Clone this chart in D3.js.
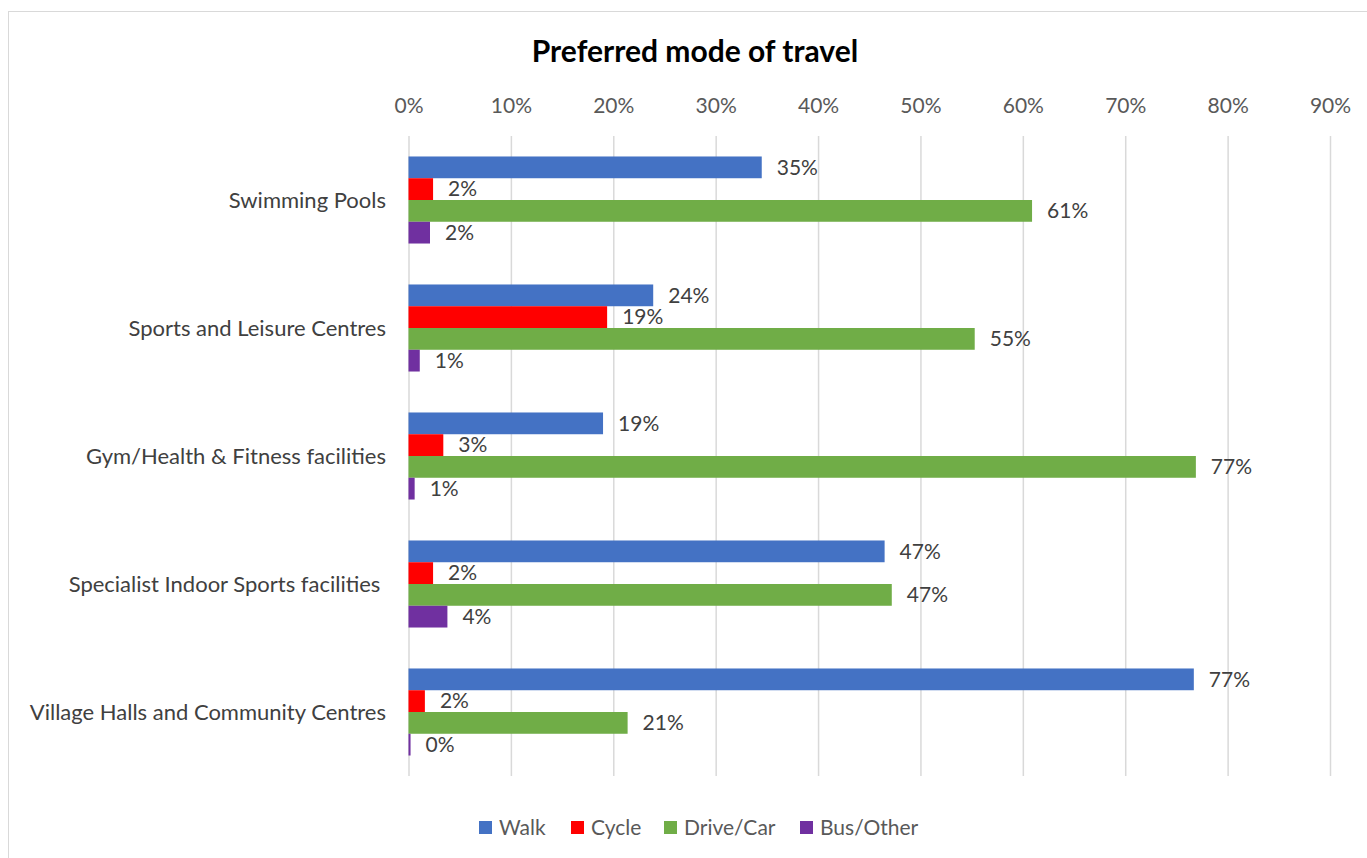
<!DOCTYPE html>
<html>
<head>
<meta charset="utf-8">
<script src="https://cdn.jsdelivr.net/npm/d3@7"></script>
<style>
  html, body { margin: 0; padding: 0; background: #fff; }
  svg { display: block; }
  text { font-family: Lato, "Open Sans", sans-serif; }
</style>
</head>
<body>
<svg id="chart" width="1367" height="858"></svg>
<script>
// Survey results: preferred mode of travel to each facility type
const categories = [
  "Swimming Pools",
  "Sports and Leisure Centres",
  "Gym/Health & Fitness facilities",
  "Specialist Indoor Sports facilities ",
  "Village Halls and Community Centres"
];
const seriesNames = ["Walk", "Cycle", "Drive/Car", "Bus/Other"];
const seriesColors = ["#4472C4", "#FF0000", "#70AD47", "#7030A0"];

// shares per category, in series order
const walk     = [0.345, 0.239, 0.190, 0.465, 0.767];
const cycle    = [0.024, 0.194, 0.034, 0.024, 0.016];
const driveCar = [0.609, 0.553, 0.769, 0.472, 0.214];
const busOther = [0.021, 0.011, 0.006, 0.038, 0.002];
const seriesValues = [walk, cycle, driveCar, busOther];

const xTicks = [0, 0.1, 0.2, 0.3, 0.4, 0.5, 0.6, 0.7, 0.8, 0.9];

const svg = d3.select("#chart");

// chart frame
svg.append("rect")
  .attr("x", 8.5).attr("y", 11.5)
  .attr("width", 1400).attr("height", 900)
  .attr("fill", "#fff").attr("stroke", "#d9d9d9").attr("stroke-width", 1);

const plot = { left: 408.5, right: 1330, top: 136, bottom: 776 };

const x = d3.scaleLinear().domain([0, 0.9]).range([plot.left, plot.right]);
const y = d3.scaleBand().domain(categories)
  .range([plot.top, plot.bottom])
  .paddingInner(0.32).paddingOuter(0.16);
const ySub = d3.scaleBand().domain(seriesNames).range([0, y.bandwidth()]);

// title
svg.append("text")
  .attr("x", 695).attr("y", 62)
  .attr("text-anchor", "middle")
  .attr("font-size", 30).attr("font-weight", "bold")
  .attr("fill", "#000")
  .text("Preferred mode of travel");

// gridlines + top axis labels
const xAxis = d3.axisTop(x).tickValues(xTicks)
  .tickFormat(d3.format(".0%"))
  .tickSize(-(plot.bottom - plot.top)).tickPadding(20);
const gx = svg.append("g")
  .attr("transform", `translate(0,${plot.top})`)
  .call(xAxis);
gx.select(".domain").remove();
gx.selectAll(".tick line").attr("stroke", "#d9d9d9").attr("stroke-width", 1.5);
gx.selectAll(".tick text")
  .attr("font-family", "Lato, 'Open Sans', sans-serif")
  .attr("font-size", 21).attr("fill", "#595959")
  .attr("y", -23);

// category labels
svg.append("g").selectAll("text")
  .data(categories).join("text")
  .attr("x", 386)
  .attr("y", d => y(d) + y.bandwidth() / 2)
  .attr("dy", "0.35em")
  .attr("text-anchor", "end")
  .attr("font-size", 22).attr("fill", "#404040")
  .style("white-space", "pre")
  .text(d => d);

// bars
const fmt = d3.format(".0%");
const groups = svg.append("g").selectAll("g")
  .data(categories).join("g")
  .attr("transform", d => `translate(0,${y(d)})`);

const cells = groups.selectAll("g")
  .data((c, ci) => seriesNames.map((s, si) => ({ s, si, v: seriesValues[si][ci] })))
  .join("g");

cells.append("rect")
  .attr("x", x(0))
  .attr("y", d => ySub(d.s))
  .attr("width", d => x(d.v) - x(0))
  .attr("height", ySub.bandwidth())
  .attr("fill", d => seriesColors[d.si]);

cells.append("text")
  .attr("x", d => x(d.v) + 15)
  .attr("y", d => ySub(d.s) + ySub.bandwidth() / 2)
  .attr("dy", "0.35em")
  .attr("font-size", 21).attr("fill", "#404040")
  .text(d => fmt(d.v));

// legend
const legendX = [479, 571, 664, 800];
const legend = svg.append("g").selectAll("g")
  .data(seriesNames).join("g")
  .attr("transform", (d, i) => `translate(${legendX[i]},821)`);
legend.append("rect")
  .attr("width", 13).attr("height", 13)
  .attr("fill", (d, i) => seriesColors[i]);
legend.append("text")
  .attr("x", 20).attr("y", 6.5).attr("dy", "0.35em")
  .attr("font-size", 21).attr("fill", "#595959")
  .text(d => d);
</script>
</body>
</html>
